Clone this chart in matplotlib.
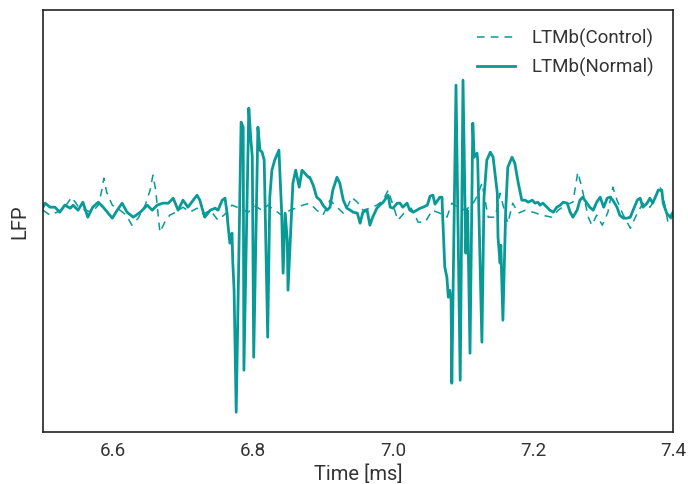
import matplotlib
matplotlib.use("Agg")
from matplotlib import pyplot as plt

plt.rcParams['font.family'] = ['Roboto', 'DejaVu Sans']

teal = '#089a96'

# LTMb(Normal) trace: time [ms], LFP (arbitrary units)
t_normal = [6.500, 6.503, 6.510, 6.517, 6.524, 6.531, 6.539, 6.543, 6.550, 6.557, 6.564,
            6.571, 6.579, 6.586, 6.599, 6.606, 6.613, 6.620, 6.629, 6.639, 6.649,
            6.656, 6.663, 6.671, 6.679, 6.686, 6.693, 6.700, 6.707, 6.720, 6.724,
            6.731, 6.739, 6.746, 6.750, 6.756, 6.760, 6.763, 6.764, 6.767, 6.770,
            6.771, 6.773, 6.776, 6.783, 6.786, 6.787, 6.794, 6.797, 6.799, 6.801,
            6.807, 6.810, 6.813, 6.816, 6.821, 6.824, 6.827, 6.831, 6.837, 6.841,
            6.843, 6.846, 6.849, 6.850, 6.857, 6.861, 6.866, 6.870, 6.874, 6.879,
            6.881, 6.886, 6.891, 6.896, 6.900, 6.906, 6.910, 6.914, 6.920, 6.924,
            6.929, 6.934, 6.939, 6.943, 6.949, 6.953, 6.957, 6.963, 6.967, 6.971,
            6.977, 6.981, 6.986, 6.991, 6.993, 6.996, 7.000, 7.006, 7.010, 7.014,
            7.020, 7.024, 7.029, 7.034, 7.039, 7.043, 7.049, 7.053, 7.057, 7.060,
            7.064, 7.067, 7.070, 7.071, 7.074, 7.077, 7.079, 7.081, 7.083, 7.084,
            7.090, 7.096, 7.100, 7.104, 7.106, 7.107, 7.110, 7.114, 7.116, 7.120,
            7.121, 7.127, 7.130, 7.134, 7.139, 7.143, 7.149, 7.150, 7.153, 7.154,
            7.157, 7.161, 7.164, 7.170, 7.174, 7.179, 7.184, 7.189, 7.193, 7.199,
            7.203, 7.207, 7.210, 7.214, 7.220, 7.224, 7.229, 7.234, 7.239, 7.243,
            7.249, 7.253, 7.257, 7.263, 7.267, 7.271, 7.277, 7.281, 7.286, 7.291,
            7.296, 7.301, 7.306, 7.310, 7.314, 7.320, 7.324, 7.329, 7.334, 7.339,
            7.343, 7.349, 7.353, 7.357, 7.363, 7.367, 7.371, 7.379, 7.384, 7.386,
            7.391, 7.396, 7.400]
lfp_normal = [0.03, 0.07, 0.03, 0.03, -0.02, 0.05, 0.02, 0.05, 0.00, 0.08, -0.07,
              0.03, 0.08, 0.03, -0.08, 0.00, 0.07, -0.02, -0.07, -0.02, 0.05,
              0.00, 0.05, 0.07, 0.07, 0.12, 0.00, 0.10, 0.03, 0.15, 0.10,
              -0.07, 0.00, 0.02, 0.00, 0.10, 0.12, -0.03, -0.13, -0.33, -0.23,
              -0.50, -0.80, -2.02, 0.88, 0.83, -1.60, 1.02, 0.70, 0.53, -1.47,
              0.83, 0.60, 0.58, 0.50, -1.27, 0.13, 0.40, 0.50, 0.60, -0.03,
              -0.63, -0.03, -0.30, -0.80, 0.27, 0.40, 0.23, 0.40, 0.37, 0.33,
              0.33, 0.25, 0.13, 0.10, 0.05, 0.00, 0.03, 0.20, 0.33, 0.27,
              0.10, 0.02, 0.00, -0.02, -0.03, -0.13, -0.02, 0.00, -0.15, -0.07,
              0.02, 0.05, 0.08, 0.13, 0.15, 0.03, 0.02, 0.07, 0.07, 0.03,
              0.07, 0.00, -0.02, 0.00, 0.02, 0.03, 0.05, 0.14, 0.15, 0.06,
              0.10, 0.13, 0.13, -0.07, -0.57, -0.67, -0.87, -0.80, -0.90, -1.73,
              1.25, -1.70, 1.30, -0.43, 0.00, -0.15, -1.43, 0.87, 0.53, 0.57,
              0.50, -1.32, 0.13, 0.50, 0.58, 0.53, 0.17, -0.27, -0.53, -0.35,
              -1.10, 0.00, 0.43, 0.53, 0.47, 0.27, 0.10, 0.10, 0.08, 0.10,
              0.07, 0.08, 0.05, 0.07, 0.03, 0.00, -0.02, 0.03, 0.05, 0.08,
              0.07, -0.02, -0.07, 0.00, 0.10, 0.13, 0.07, 0.03, 0.00, 0.08,
              0.13, 0.03, 0.12, 0.13, 0.10, 0.03, -0.05, -0.08, -0.08, -0.07,
              0.00, 0.10, 0.12, 0.03, 0.07, 0.12, 0.07, 0.20, 0.20, 0.07,
              -0.03, -0.07, -0.02]

# LTMb(Control) trace
t_control = [6.500, 6.510, 6.520, 6.530, 6.541, 6.550, 6.560, 6.570, 6.579, 6.584,
             6.587, 6.591, 6.599, 6.610, 6.619, 6.627, 6.636, 6.646, 6.653, 6.657,
             6.661, 6.667, 6.674, 6.681, 6.690, 6.700, 6.710, 6.720, 6.729, 6.739,
             6.750, 6.760, 6.770, 6.781, 6.793, 6.803, 6.813, 6.821, 6.831, 6.841,
             6.853, 6.861, 6.871, 6.881, 6.891, 6.900, 6.910, 6.920, 6.929, 6.936,
             6.941, 6.949, 6.957, 6.967, 6.977, 6.986, 6.993, 7.000, 7.007, 7.017,
             7.026, 7.036, 7.046, 7.056, 7.067, 7.077, 7.084, 7.093, 7.103, 7.113,
             7.121, 7.127, 7.136, 7.146, 7.153, 7.159, 7.164, 7.171, 7.179, 7.189,
             7.200, 7.213, 7.227, 7.236, 7.246, 7.257, 7.264, 7.270, 7.279, 7.284,
             7.291, 7.299, 7.307, 7.314, 7.320, 7.329, 7.339, 7.349, 7.357, 7.367,
             7.374, 7.381, 7.387, 7.393, 7.400]
lfp_control = [0.00, -0.05, -0.02, 0.02, 0.13, 0.04, 0.00, -0.02, 0.05, 0.20,
               0.32, 0.18, 0.05, 0.00, -0.05, -0.15, -0.08, 0.05, 0.20, 0.35,
               0.20, -0.22, -0.12, -0.05, -0.02, 0.03, -0.02, 0.02, -0.04, 0.00,
               -0.10, -0.04, 0.05, 0.02, -0.02, 0.04, 0.00, 0.05, 0.00, -0.05,
               0.00, 0.02, 0.05, 0.07, 0.00, -0.05, 0.10, 0.03, -0.03, 0.05,
               0.13, 0.08, 0.00, 0.02, 0.05, 0.10, 0.20, 0.05, -0.10, -0.02,
               0.02, -0.12, -0.12, 0.00, -0.03, -0.07, 0.07, 0.03, 0.00, 0.05,
               0.15, 0.27, -0.07, -0.07, 0.17, 0.00, -0.13, 0.07, -0.03, 0.00,
               -0.02, -0.05, -0.07, 0.00, 0.05, 0.08, 0.38, 0.22, -0.07, -0.15,
               -0.05, -0.15, -0.02, 0.23, 0.10, -0.05, -0.18, -0.03, 0.07, 0.03,
               0.10, 0.25, 0.10, -0.13, -0.05]

fig = plt.figure(figsize=(6.88, 4.84), dpi=100)
ax = fig.add_axes([0.0625, 0.107, 0.9157, 0.872])

ax.plot(t_control, lfp_control, color=teal, lw=1.1, ls=(0, (5, 4)), label="LTMb(Control)")
ax.plot(t_normal, lfp_normal, color=teal, lw=2.0, label="LTMb(Normal)")

ax.set_xlim(6.5, 7.4)
ax.set_ylim(-2.22, 2.0)
ax.set_xticks([6.6, 6.8, 7.0, 7.2, 7.4])
ax.set_yticks([])
ax.tick_params(axis='x', length=0, labelsize=13.5, colors='#333333', pad=7)
ax.set_xlabel("Time [ms]", fontsize=14.5, color='#333333', labelpad=3)
ax.set_ylabel("LFP", fontsize=14.5, color='#333333', labelpad=10)
for s in ax.spines.values():
    s.set_color('#222222')
    s.set_linewidth(1.2)

ax.legend(loc='upper right', frameon=False, fontsize=13.5, handlelength=2.0,
          handletextpad=0.9, labelcolor='#333333', borderaxespad=0.6)

fig.savefig("out.png", dpi=100)
